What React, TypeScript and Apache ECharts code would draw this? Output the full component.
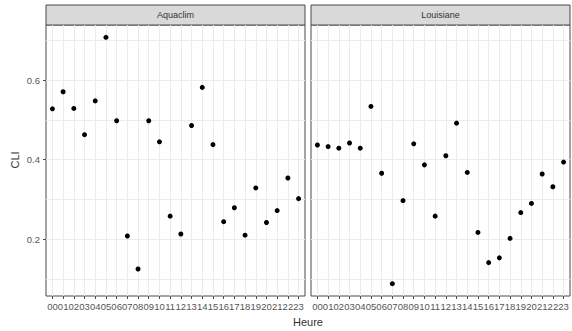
import React, { useEffect, useRef } from "react";
import * as echarts from "echarts";

const hours = ["00","01","02","03","04","05","06","07","08","09","10","11","12","13","14","15","16","17","18","19","20","21","22","23"];
const panels = ["Aquaclim", "Louisiane"];
const aquaclim = [0.528,0.571,0.529,0.463,0.548,0.708,0.498,0.208,0.125,0.498,0.445,0.258,0.213,0.486,0.582,0.438,0.244,0.279,0.210,0.329,0.242,0.272,0.354,0.302];
const louisiane = [0.437,0.433,0.429,0.442,0.429,0.534,0.366,0.088,0.297,0.440,0.387,0.258,0.410,0.492,0.368,0.217,0.141,0.153,0.202,0.267,0.290,0.364,0.332,0.394];
const yMajor = [0.2, 0.4, 0.6];
const yGrid = [0.1, 0.2, 0.3, 0.4, 0.5, 0.6, 0.7];
const xLabel = "Heure";
const yLabel = "CLI";

const FONT = "'Liberation Sans', Arial, sans-serif";

export default function App() {
  const ref = useRef<HTMLDivElement>(null);
  useEffect(() => {
    if (!ref.current) return;
    const chart = echarts.init(ref.current, null, { renderer: "svg" });
    const gridDefs = [
      { left: 46, top: 25, width: 259, height: 271 },
      { left: 311, top: 25, width: 259, height: 271 },
    ];
    const hourIdx = hours.map((_, i) => i);
    const seriesData = [aquaclim, louisiane];
    const grid = gridDefs.map((g) => ({
      ...g,
      show: true,
      borderColor: "#4a4a4a",
      borderWidth: 1,
      backgroundColor: "#ffffff",
    }));
    const xAxis = gridDefs.map((_, i) => ({
      type: "value",
      gridIndex: i,
      min: -0.6,
      max: 23.6,
      axisLine: { show: false },
      axisTick: { show: true, length: 3, customValues: hourIdx, lineStyle: { color: "#4a4a4a" } },
      axisLabel: {
        show: true,
        customValues: hourIdx,
        formatter: (v: number) => hours[Math.round(v)] ?? "",
        fontSize: 9.5,
        color: "#555",
        fontFamily: FONT,
        margin: 5,
      },
      splitLine: { show: true, lineStyle: { color: "#ebebeb", width: 1 } },
    }));
    const yAxis: any[] = [];
    gridDefs.forEach((_, i) => {
      yAxis.push({
        type: "value",
        gridIndex: i,
        min: 0.057,
        max: 0.739,
        position: "left",
        axisLine: { show: false },
        axisTick: { show: false, customValues: yGrid },
        axisLabel: {
          show: i === 0,
          customValues: yMajor,
          formatter: (v: number) => v.toFixed(1),
          fontSize: 9.5,
          color: "#555",
          fontFamily: FONT,
          margin: 6,
        },
        splitLine: { show: true, lineStyle: { color: "#ebebeb", width: 1 } },
      });
    });
    yAxis.push({
      type: "value",
      gridIndex: 0,
      min: 0.057,
      max: 0.739,
      position: "left",
      axisLine: { show: false },
      axisTick: { show: true, length: 3, customValues: yMajor, lineStyle: { color: "#4a4a4a" } },
      axisLabel: { show: false },
      splitLine: { show: false },
    });
    const series = seriesData.map((vals, i) => ({
      type: "scatter",
      xAxisIndex: i,
      yAxisIndex: i,
      symbolSize: 5,
      itemStyle: { color: "#000000", opacity: 1 },
      data: vals.map((v, j) => [j, v]),
      z: 5,
    }));
    const graphic: any[] = [];
    gridDefs.forEach((g, i) => {
      graphic.push({
        type: "rect",
        shape: { x: g.left, y: 5, width: g.width, height: 20 },
        style: { fill: "#d9d9d9", stroke: "#4a4a4a", lineWidth: 1 },
      });
      graphic.push({
        type: "text",
        x: g.left + g.width / 2,
        y: 15,
        style: {
          text: panels[i],
          fill: "#333",
          font: `9px ${FONT}`,
          textAlign: "center",
          textVerticalAlign: "middle",
        },
      });
    });
    graphic.push({
      type: "text",
      x: 308,
      y: 322,
      style: {
        text: xLabel,
        fill: "#333",
        font: `11px ${FONT}`,
        textAlign: "center",
        textVerticalAlign: "middle",
      },
    });
    graphic.push({
      type: "text",
      x: 15,
      y: 160,
      rotation: Math.PI / 2,
      style: {
        text: yLabel,
        fill: "#333",
        font: `11px ${FONT}`,
        textAlign: "center",
        textVerticalAlign: "middle",
      },
    });
    chart.setOption({
      animation: false,
      backgroundColor: "#ffffff",
      grid,
      xAxis,
      yAxis,
      series,
      graphic,
    });
    return () => chart.dispose();
  }, []);
  return (
    <div
      ref={ref}
      style={{ position: "fixed", left: 0, top: 0, width: 572, height: 331 }}
    />
  );
}
